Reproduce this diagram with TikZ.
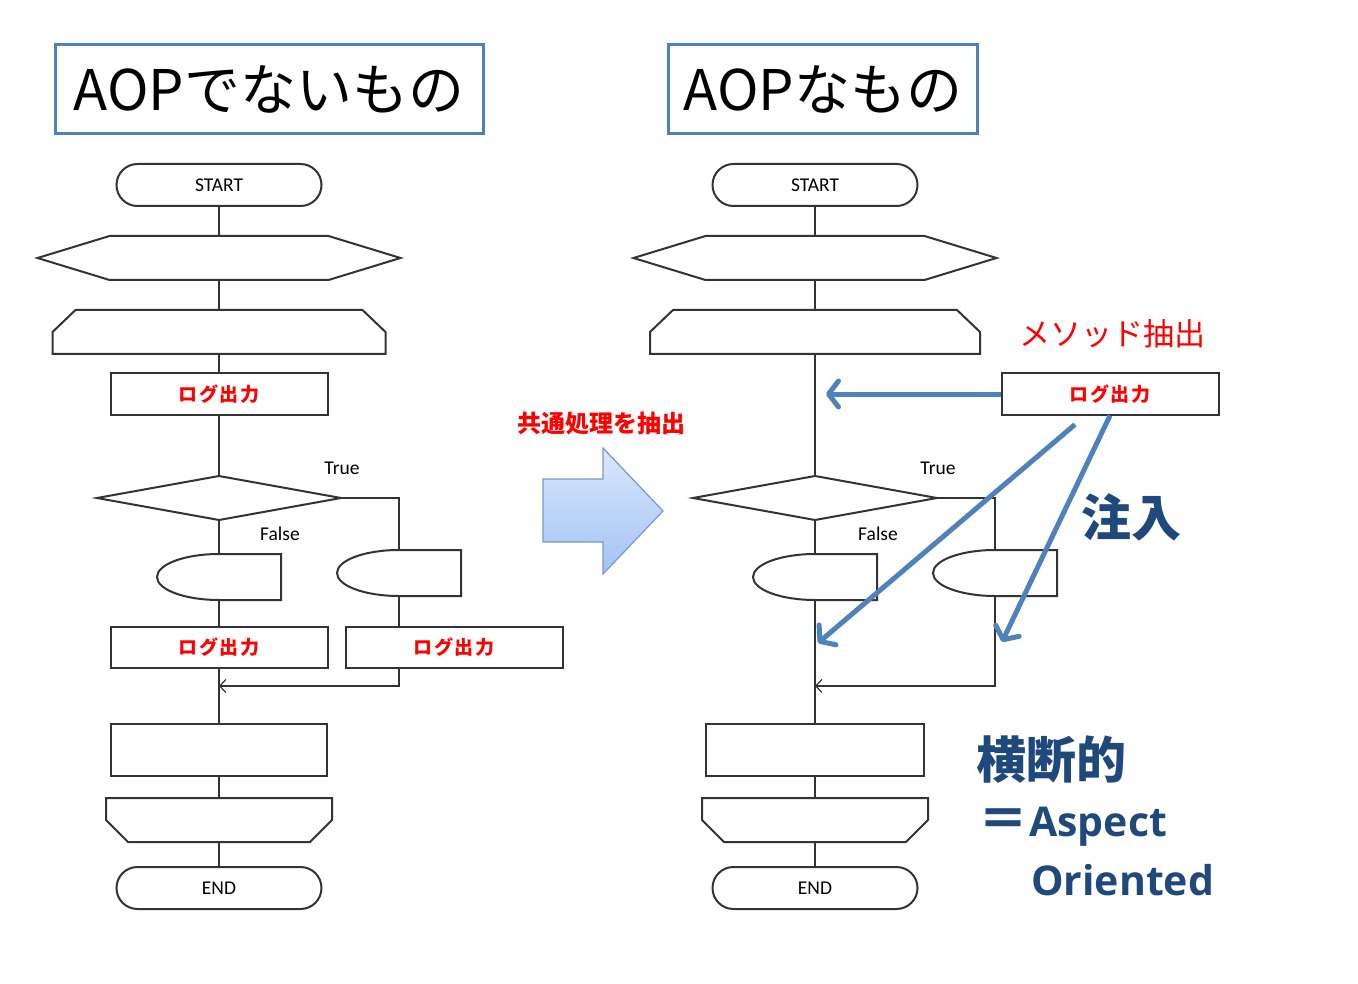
\documentclass[tikz,border=0pt]{standalone}
\usepackage{fontspec}
\setmainfont{Carlito}
\newfontfamily\jp{Noto Sans CJK JP}
\newfontfamily\jplog{Noto Sans CJK JP}[LetterSpace=10]
\newfontfamily\lat{Open Sans}
\usetikzlibrary{arrows.meta,calc}
\definecolor{flowgrey}{gray}{0.2}
\definecolor{titleblue}{RGB}{79,129,189}
\definecolor{injblue}{RGB}{79,129,189}
\definecolor{textblue}{RGB}{31,73,125}
\definecolor{logred}{RGB}{255,0,0}
\definecolor{arrtop}{RGB}{218,231,252}
\definecolor{arrbot}{RGB}{163,195,243}
\definecolor{arredge}{RGB}{118,153,204}
\tikzset{
  fig/.style={x=1pt,y=-1pt},
  ln/.style={flowgrey,line width=2pt},
  shp/.style={draw=flowgrey,line width=2pt},
  blank/.style={inner sep=0pt,outer sep=0pt},
  term/.style={draw=flowgrey,line width=2pt,rounded corners=21pt,minimum width=205pt,
               minimum height=42pt,inner sep=0pt,font=\fontsize{19.5}{22}\selectfont},
  logbox/.style={draw=flowgrey,line width=2pt,minimum width=217pt,minimum height=41pt,
                 inner sep=0pt,text=logred,font=\jplog\bfseries\fontsize{19}{21}\selectfont},
  mrg/.style={ln,-{Straight Barb[length=6pt,width=13pt,line width=1.2pt]}},
  inj/.style={injblue,line width=5pt,-{Straight Barb[length=10pt,width=26pt,round]}},
  lbl/.style={font=\fontsize{19.5}{22}\selectfont,inner sep=0pt},
  titlebox/.style={draw=titleblue,line width=3pt,minimum height=89pt,inner sep=0pt,
                   font=\jp\fontsize{56}{60}\selectfont},
  redtxt/.style={logred,inner sep=0pt},
  bluetxt/.style={textblue,inner sep=0pt,font=\jp\bfseries\fontsize{50}{52}\selectfont},
  bluelat/.style={textblue,inner sep=0pt,font=\lat\bfseries\fontsize{41}{44}\selectfont},
  blockarrow/.style={draw=arredge,line width=1.2pt,top color=arrtop,bottom color=arrbot},
}
\newcommand{\hexshape}[1]{\draw[shp] (#1.west) -- ([xshift=72pt]#1.north west)
  -- ([xshift=-72pt]#1.north east) -- (#1.east) -- ([xshift=-72pt]#1.south east)
  -- ([xshift=72pt]#1.south west) -- cycle;}
\newcommand{\loopopen}[1]{\draw[shp] (#1.south west) -- ([yshift=-22pt]#1.north west)
  -- ([xshift=23pt]#1.north west) -- ([xshift=-23pt]#1.north east)
  -- ([yshift=-22pt]#1.north east) -- (#1.south east) -- cycle;}
\newcommand{\loopclose}[1]{\draw[shp] (#1.north west) -- (#1.north east)
  -- ([yshift=22pt]#1.south east) -- ([xshift=-22pt]#1.south east)
  -- ([xshift=22pt]#1.south west) -- ([yshift=22pt]#1.south west) -- cycle;}
\newcommand{\decision}[1]{\draw[shp] (#1.west) -- (#1.north) -- (#1.east) -- (#1.south) -- cycle;}
\newcommand{\delayshape}[1]{\draw[shp] (#1.north east) -- (#1.south east)
  -- ([xshift=62pt]#1.south west) arc[start angle=270,end angle=90,x radius=62pt,y radius=23pt]
  -- cycle;}

\begin{document}
\begin{tikzpicture}[fig]
\useasboundingbox (0,0) rectangle (1358,984);

\node[titlebox,minimum width=428pt] (tl) at (269,89) {AOPでないもの};
\node[titlebox,minimum width=309pt] (tr) at (823,89) {AOPなもの};

% without AOP
\node[term] (st1) at (219,185) {START};
\node[blank,minimum width=363pt,minimum height=44pt] (hx1) at (219,258) {};
\node[blank,minimum width=333pt,minimum height=44pt] (lp1) at (219,332) {};
\node[logbox] (lg1) at (219,394) {ログ出力};
\node[blank,minimum width=244pt,minimum height=44pt] (dm1) at (219,498) {};
\node[blank,minimum width=124pt,minimum height=46pt] (dl1) at (219,577) {};
\node[blank,minimum width=124pt,minimum height=46pt] (dr1) at (399,573) {};
\node[logbox] (lg2) at (219,647) {ログ出力};
\node[logbox] (lg3) at (454,647) {ログ出力};
\node[shp,blank,minimum width=216pt,minimum height=52pt] (pr1) at (219,750) {};
\node[blank,minimum width=226pt,minimum height=44pt] (le1) at (219,820) {};
\node[term] (en1) at (219,888) {END};
\node[lbl] (t1) at (342,468) {True};
\node[lbl] (f1) at (280,534) {False};
\coordinate (mg1) at (219,686);

\hexshape{hx1} \loopopen{lp1} \decision{dm1} \delayshape{dl1} \delayshape{dr1} \loopclose{le1}

\draw[ln] (st1.south) -- (hx1.north);
\draw[ln] (hx1.south) -- (lp1.north);
\draw[ln] (lp1.south) -- (lg1.north);
\draw[ln] (lg1.south) -- (dm1.north);
\draw[ln] (dm1.south) -- (dl1.north);
\draw[ln] (dm1.east) -| (dr1.north);
\draw[ln] (dl1.south) -- (lg2.north);
\draw[ln] (dr1.south) -- (dr1.south |- lg3.north);
\draw[ln] (lg2.south) -- (pr1.north);
\draw[mrg] (dr1.south |- lg3.south) |- (mg1);
\draw[ln] (pr1.south) -- (le1.north);
\draw[ln] (le1.south) -- (en1.north);

% common part taken out
\node[redtxt,font=\jp\bfseries\fontsize{24}{26}\selectfont] (kx) at (601,423) {共通処理を抽出};
\shadedraw[blockarrow] (543,479) -- (603,479) -- (603,448) -- (663,511) -- (603,574)
  -- (603,542) -- (543,542) -- cycle;

% with AOP
\node[term] (st2) at (815,185) {START};
\node[blank,minimum width=363pt,minimum height=44pt] (hx2) at (815,258) {};
\node[blank,minimum width=330pt,minimum height=44pt] (lp2) at (815,332) {};
\node[blank,minimum width=244pt,minimum height=44pt] (dm2) at (815,498) {};
\node[blank,minimum width=124pt,minimum height=46pt] (dl2) at (815,577) {};
\node[blank,minimum width=124pt,minimum height=46pt] (dr2) at (995,573) {};
\node[shp,blank,minimum width=218pt,minimum height=52pt] (pr2) at (815,750) {};
\node[blank,minimum width=226pt,minimum height=44pt] (le2) at (815,820) {};
\node[term] (en2) at (815,888) {END};
\node[lbl] (t2) at (938,468) {True};
\node[lbl] (f2) at (878,534) {False};
\coordinate (mg2) at (815,686);

\hexshape{hx2} \loopopen{lp2} \decision{dm2} \delayshape{dl2} \delayshape{dr2} \loopclose{le2}

\draw[ln] (st2.south) -- (hx2.north);
\draw[ln] (hx2.south) -- (lp2.north);
\draw[ln] (lp2.south) -- (dm2.north);
\draw[ln] (dm2.south) -- (dl2.north);
\draw[ln] (dm2.east) -| (dr2.north);
\draw[ln] (dl2.south) -- (pr2.north);
\draw[mrg] (dr2.south) |- (mg2);
\draw[ln] (pr2.south) -- (le2.north);
\draw[ln] (le2.south) -- (en2.north);

\node[logbox] (lgx) at (1110,394) {ログ出力};
\node[redtxt,font=\jp\fontsize{31}{34}\selectfont] (mx) at (1112,334) {メソッド抽出};
\coordinate (in1) at (826,394);
\coordinate (in2) at (818,643);
\coordinate (in3) at (1002,642);
\draw[inj] (lgx.west) -- (in1);
\draw[inj] ($(lgx.south)+(-35,9)$) -- (in2);
\draw[inj] (lgx.south) -- (in3);

\node[bluetxt] (cn) at (1131,517) {注入};
\node[bluetxt,anchor=base west] (ob) at (976,778) {横断的};
\node[bluetxt,anchor=base west] (eq) at (978,837) {＝};
\node[bluelat,anchor=base west] (as) at (1029,836) {Aspect};
\node[bluelat,anchor=base west] (oo) at (1031,895) {Oriented};

\end{tikzpicture}
\end{document}
